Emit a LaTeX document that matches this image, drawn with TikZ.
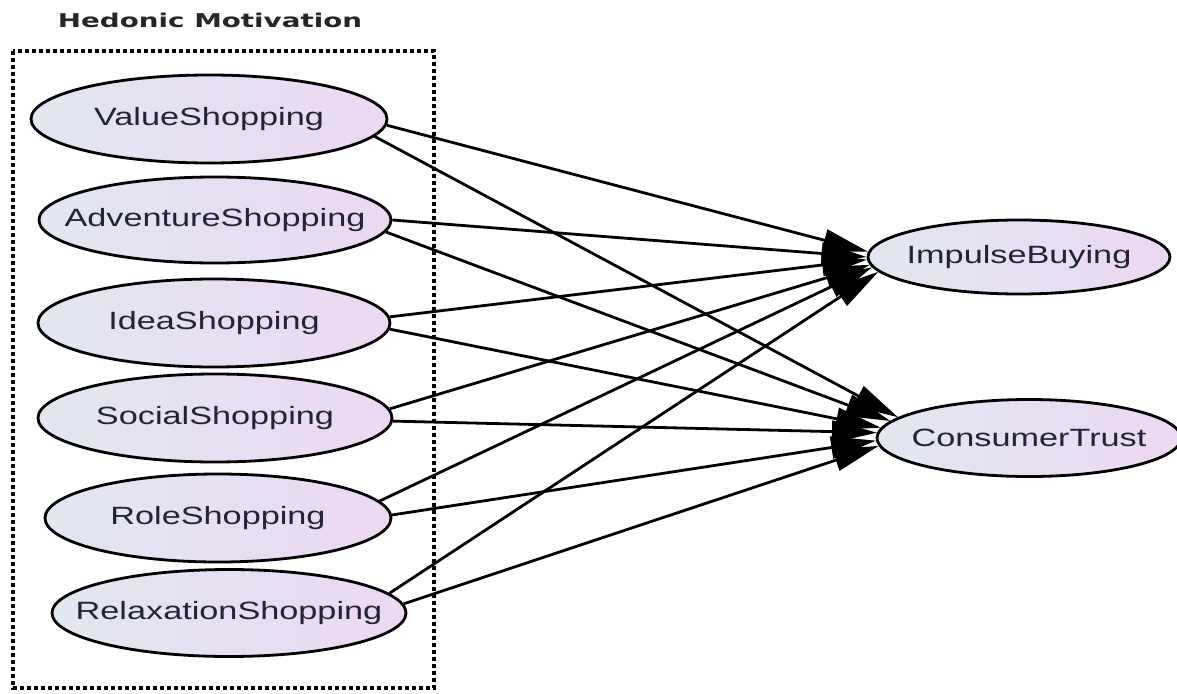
\documentclass[tikz,border=0pt]{standalone}
\usepackage{fontspec}
\usetikzlibrary{shapes.geometric,arrows.meta}
\newfontfamily\nodefont[FakeStretch=1.37]{Liberation Sans}
\newfontfamily\titlefont[FakeStretch=1.46]{DejaVu Sans}
\definecolor{fillL}{RGB}{226,231,240}
\definecolor{fillR}{RGB}{236,216,242}
\definecolor{txt}{RGB}{35,35,55}
\tikzset{
  latent/.style={ellipse, draw=black, line width=2.8pt, inner sep=0pt,
    left color=fillL, right color=fillR, shading angle=90,
    minimum width=#1, font=\nodefont\fontsize{25}{30}\selectfont, text=txt},
  latent/.default={354pt},
  rel/.style={line width=2.8pt, -{Triangle[length=45pt,width=22pt]}},
  group/.style={draw=black, line width=4pt, dash pattern=on 4pt off 3pt}
}
\begin{document}
\begin{tikzpicture}[x=1pt,y=-1pt]
\useasboundingbox (0,0) rectangle (1177,693);
\node[font=\titlefont\bfseries\fontsize{19}{22}\selectfont, text=black!85] (title) at (210,20) {Hedonic Motivation};
\draw[group] (13,51) rectangle (434,688);
\node[latent={356pt}, minimum height=88pt] (vs) at (209,119) {\makebox[0pt]{ValueShopping}};
\node[latent={352pt}, minimum height=86pt] (as) at (215,220) {\makebox[0pt]{AdventureShopping}};
\node[latent={352pt}, minimum height=88pt] (is) at (214,323) {\makebox[0pt]{IdeaShopping}};
\node[latent={354pt}, minimum height=88pt] (ss) at (215,418) {\makebox[0pt]{SocialShopping}};
\node[latent={346pt}, minimum height=88pt] (rs) at (218,518) {\makebox[0pt]{RoleShopping}};
\node[latent={354pt}, minimum height=87pt] (xs) at (229,613) {\makebox[0pt]{RelaxationShopping}};
\node[latent={302pt}, minimum height=74pt] (ib) at (1019,257) {\makebox[0pt]{ImpulseBuying}};
\node[latent={304pt}, minimum height=77pt] (ct) at (1029,438) {\makebox[0pt]{ConsumerTrust}};
\foreach \s/\a/\b/\ta/\tb in {vs/-2/-6.6/178.5/171, as/-0.6/-4.7/180/173.5, is/2.6/-2.2/181.5/176,
    ss/3.6/-1/183/178.5, rs/6/1.6/184.5/181, xs/7.7/3.6/186/183.5}{
  \draw[rel] (\s.\a) -- (ib.\ta);
  \draw[rel] (\s.\b) -- (ct.\tb);
}
\end{tikzpicture}
\end{document}
